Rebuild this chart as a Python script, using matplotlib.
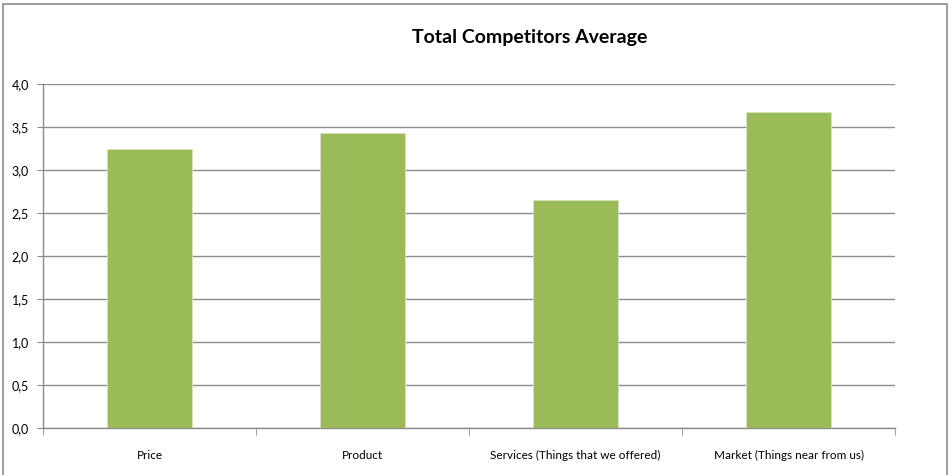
import numpy as np
import matplotlib.pyplot as plt
from matplotlib.patches import Rectangle
from matplotlib.ticker import FixedLocator

plt.rcParams['font.family'] = ['Lato', 'DejaVu Sans']

categories = ['Price', 'Product', 'Services (Things that we offered)', 'Market (Things near from us)']
averages = [3.24, 3.43, 2.65, 3.67]
y_ticks = [0.0, 0.5, 1.0, 1.5, 2.0, 2.5, 3.0, 3.5, 4.0]
y_labels = [('%.1f' % v).replace('.', ',') for v in y_ticks]

W, H = 952, 475
fig = plt.figure(figsize=(W / 100, H / 100), dpi=100)
ax = fig.add_axes([43 / W, 1 - 428 / H, (895 - 43) / W, (428 - 84) / H])

x = np.arange(len(categories))
ax.bar(x, averages, width=0.4, color='#9BBB59', edgecolor='#d7e4bd', linewidth=0.6, zorder=3)

ax.set_xlim(-0.5, len(categories) - 0.5)
ax.set_ylim(0, 4.0)
ax.set_yticks(y_ticks)
ax.set_yticklabels(y_labels, fontsize=9)
ax.yaxis.grid(True, color='#8c8c8c', linewidth=1.0, zorder=0)
ax.set_axisbelow(True)

# category labels centred, tick marks between categories
ax.set_xticks(x)
ax.set_xticklabels(categories, fontsize=8.5)
ax.tick_params(axis='x', which='major', length=0, pad=16)
ax.xaxis.set_minor_locator(FixedLocator(np.arange(-0.5, len(categories), 1.0)))
ax.tick_params(axis='x', which='minor', length=5, color='#8c8c8c', direction='out')
ax.tick_params(axis='y', length=4, color='#8c8c8c', direction='out', pad=6)

for side in ['top', 'right']:
    ax.spines[side].set_visible(False)
for side in ['left', 'bottom']:
    ax.spines[side].set_color('#8c8c8c')
    ax.spines[side].set_linewidth(1.0)

fig.text(0.556, 1 - 38 / H, 'Total Competitors Average', ha='center', va='center',
         fontsize=14, fontweight='bold')

# chart frame
fig.patches.append(Rectangle((3 / W, -0.05), 944 / W, 1.05 - 4 / H, transform=fig.transFigure,
                             fill=False, edgecolor='#8c8c8c', linewidth=1.2))

fig.savefig('out.png', dpi=100)
